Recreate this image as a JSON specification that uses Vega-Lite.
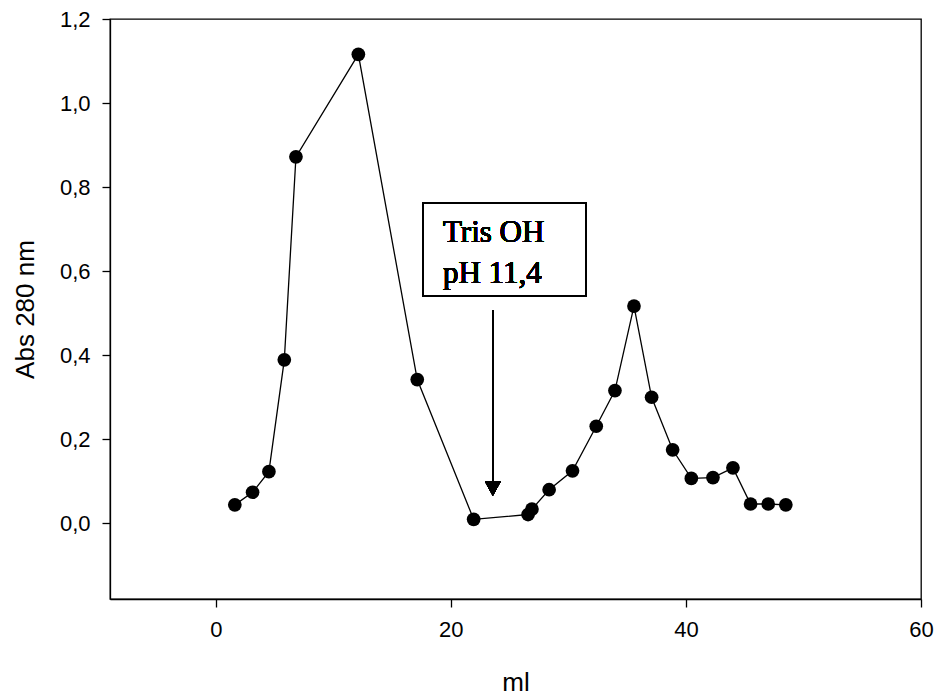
{
  "$schema": "https://vega.github.io/schema/vega-lite/v6.json",
  "width": 811,
  "height": 580,
  "autosize": "none",
  "padding": {"left": 110, "top": 19, "right": 17, "bottom": 97},
  "background": "white",
  "config": {
    "view": {"stroke": "black", "strokeWidth": 1.3},
    "font": "Liberation Sans",
    "axis": {
      "grid": false,
      "domainColor": "black",
      "domainWidth": 1.3,
      "tickColor": "black",
      "tickWidth": 1.3,
      "tickSize": 8,
      "labelColor": "black",
      "labelFont": "Liberation Sans",
      "labelFontSize": 22,
      "labelFlush": false,
      "labelOverlap": false,
      "titleColor": "black",
      "titleFont": "Liberation Sans",
      "titleFontSize": 26,
      "titleFontWeight": "normal"
    }
  },
  "data": {
    "values": [
      {"ml": 1.62, "abs": 0.044},
      {"ml": 3.13, "abs": 0.074},
      {"ml": 4.52, "abs": 0.123},
      {"ml": 5.83, "abs": 0.389},
      {"ml": 6.82, "abs": 0.872},
      {"ml": 12.13, "abs": 1.116},
      {"ml": 17.14, "abs": 0.342},
      {"ml": 21.94, "abs": 0.0095},
      {"ml": 26.57, "abs": 0.021},
      {"ml": 26.9, "abs": 0.034},
      {"ml": 28.36, "abs": 0.08},
      {"ml": 30.35, "abs": 0.125},
      {"ml": 32.37, "abs": 0.231},
      {"ml": 33.96, "abs": 0.316},
      {"ml": 35.58, "abs": 0.517},
      {"ml": 37.08, "abs": 0.3},
      {"ml": 38.87, "abs": 0.175},
      {"ml": 40.46, "abs": 0.107},
      {"ml": 42.3, "abs": 0.109},
      {"ml": 44.0, "abs": 0.132},
      {"ml": 45.5, "abs": 0.046},
      {"ml": 47.0, "abs": 0.046},
      {"ml": 48.5, "abs": 0.044}
    ]
  },
  "layer": [
    {
      "mark": {"type": "line", "color": "black", "strokeWidth": 1.3},
      "encoding": {
        "x": {
          "field": "ml", "type": "quantitative",
          "scale": {"domain": [-9, 60], "nice": false, "zero": false},
          "title": "ml",
          "axis": {
            "values": [0, 20, 40, 60], "format": "d",
            "labelPadding": 12,
            "titleX": 405.5, "titleY": 91,
            "titleAlign": "center", "titleBaseline": "alphabetic"
          }
        },
        "y": {
          "field": "abs", "type": "quantitative",
          "scale": {"domain": [-0.18, 1.2], "nice": false, "zero": false},
          "title": "Abs 280 nm",
          "axis": {
            "values": [0, 0.2, 0.4, 0.6, 0.8, 1.0, 1.2],
            "labelExpr": "replace(format(datum.value, '.1f'), '.', ',')",
            "labelPadding": 12,
            "titleAngle": -90,
            "titleX": -85, "titleY": 290,
            "titleAlign": "center", "titleBaseline": "middle"
          }
        }
      }
    },
    {
      "mark": {"type": "point", "shape": "circle", "filled": true, "color": "black", "size": 188, "opacity": 1},
      "encoding": {
        "x": {"field": "ml", "type": "quantitative", "title": "ml"},
        "y": {"field": "abs", "type": "quantitative", "title": "Abs 280 nm"}
      }
    },
    {
      "mark": {"type": "rect", "fill": null, "fillOpacity": 0, "stroke": "black", "strokeWidth": 1.3},
      "encoding": {
        "x": {"datum": 17.62, "type": "quantitative", "title": "ml"},
        "x2": {"datum": 31.52},
        "y": {"datum": 0.763, "type": "quantitative", "title": "Abs 280 nm"},
        "y2": {"datum": 0.5415}
      }
    },
    {
      "mark": {
        "type": "text",
        "text": ["Tris OH", "pH 11,4"],
        "font": "Liberation Serif",
        "fontSize": 31,
        "lineHeight": 41,
        "align": "left",
        "baseline": "alphabetic",
        "color": "black"
      },
      "encoding": {
        "x": {"datum": 19.33, "type": "quantitative", "title": "ml"},
        "y": {"datum": 0.6706, "type": "quantitative", "title": "Abs 280 nm"}
      }
    },
    {
      "mark": {"type": "rule", "color": "black", "strokeWidth": 1.3},
      "encoding": {
        "x": {"datum": 23.57, "type": "quantitative", "title": "ml"},
        "y": {"datum": 0.5065, "type": "quantitative", "title": "Abs 280 nm"},
        "y2": {"datum": 0.0975}
      }
    },
    {
      "mark": {"type": "point", "shape": "M-1,-0.9L1,-0.9L0,0.9Z", "filled": true, "color": "black", "size": 246, "opacity": 1},
      "encoding": {
        "x": {"datum": 23.57, "type": "quantitative", "title": "ml"},
        "y": {"datum": 0.0825, "type": "quantitative", "title": "Abs 280 nm"}
      }
    }
  ]
}
